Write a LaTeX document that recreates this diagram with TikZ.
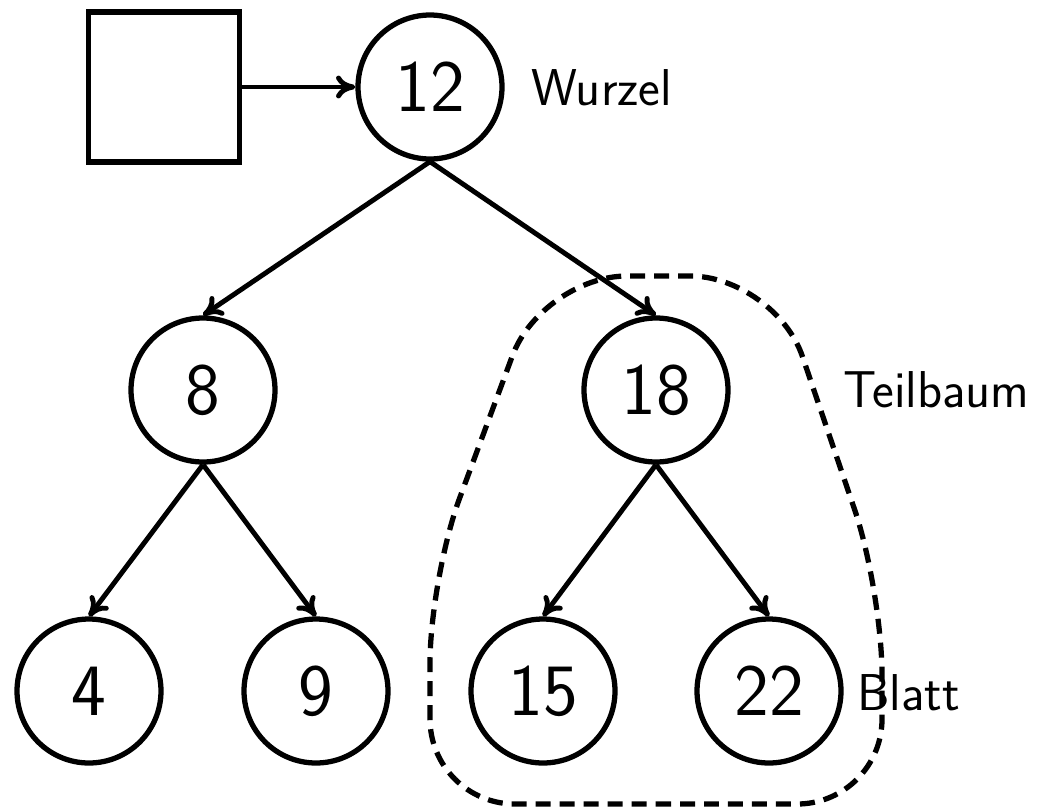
\documentclass[tikz,border=0pt]{standalone}
\usetikzlibrary{arrows.meta}
\begin{document}
\begin{tikzpicture}[x=0.02cm,y=-0.02cm,
  every node/.style={font=\sffamily},
  knot/.style={circle,draw,line width=3pt,minimum size=2.88cm,inner sep=0pt,font=\sffamily\fontsize{42}{50}\selectfont},
  box/.style={rectangle,draw,line width=3pt,minimum width=3.02cm,minimum height=3.0cm,inner sep=0pt},
  lbl/.style={anchor=base west,inner sep=0pt,font=\sffamily\fontsize{29.5}{35}\selectfont},
  edge/.style={line width=2.8pt,-{To[length=11pt,width=13pt]}},
  region/.style={line width=3pt,dash pattern=on 0.3cm off 0.18cm,rounded corners=1.7cm}]
\useasboundingbox (0,0) rectangle (1037,809);
\node[box] (root) at (164,87) {};
\node[knot] (n12) at (430,87) {12};
\node[knot] (n8) at (203,390) {8};
\node[knot] (n18) at (656,390) {18};
\node[knot] (n4) at (89,691) {4};
\node[knot] (n9) at (316,691) {9};
\node[knot] (n15) at (543,691) {15};
\node[knot] (n22) at (769,691) {22};
\node[lbl] (wurzel) at (531,105) {Wurzel};
\node[lbl] (teil) at (843,407) {Teilbaum};
\node[lbl] (blatt) at (857,710) {Blatt};
\draw[edge] (root.east) -- (n12.west);
\draw[edge] (n12.south) -- (n8.north);
\draw[edge] (n12.south) -- (n18.north);
\draw[edge] (n8.south) -- (n4.north);
\draw[edge] (n8.south) -- (n9.north);
\draw[edge] (n18.south) -- (n15.north);
\draw[edge] (n18.south) -- (n22.north);
\coordinate (c1) at (656,804);
\draw[region] (c1) -- (882,804) -- (882,590) -- (775,276) -- (542,276) -- (430,578) -- (430,804) -- (c1);
\end{tikzpicture}
\end{document}
